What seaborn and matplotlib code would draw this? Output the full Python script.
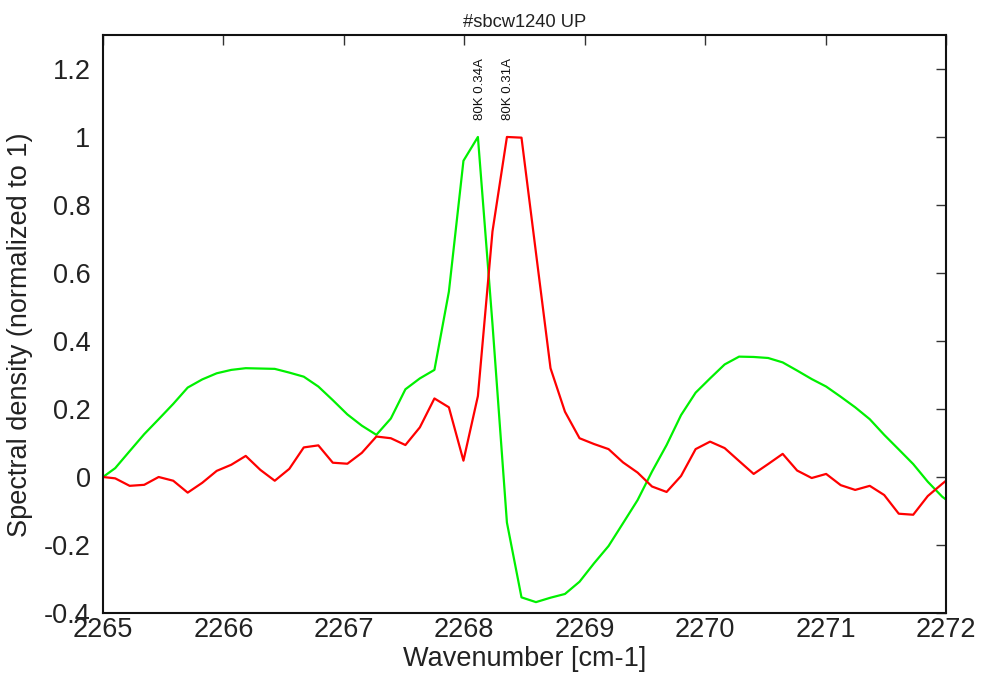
import matplotlib
matplotlib.use("Agg")
import matplotlib.pyplot as plt
import seaborn as sns
import pandas as pd

# ---- data ----
wavenumber = [2265.000, 2265.101, 2265.221, 2265.342, 2265.462, 2265.583, 2265.703, 2265.824,
              2265.944, 2266.065, 2266.185, 2266.306, 2266.426, 2266.547, 2266.667, 2266.788,
              2266.908, 2267.029, 2267.149, 2267.270, 2267.390, 2267.511, 2267.631, 2267.752,
              2267.872, 2267.993, 2268.113, 2268.234, 2268.354, 2268.475, 2268.595, 2268.716,
              2268.836, 2268.957, 2269.077, 2269.198, 2269.318, 2269.439, 2269.559, 2269.680,
              2269.800, 2269.921, 2270.041, 2270.162, 2270.282, 2270.403, 2270.523, 2270.644,
              2270.764, 2270.885, 2271.005, 2271.126, 2271.246, 2271.367, 2271.487, 2271.608,
              2271.728, 2271.849, 2271.969, 2272.090]

green_034A = [0.000, 0.026, 0.076, 0.126, 0.170, 0.215, 0.263, 0.287, 0.305, 0.315,
              0.320, 0.319, 0.318, 0.307, 0.295, 0.266, 0.226, 0.184, 0.151, 0.124,
              0.172, 0.258, 0.290, 0.315, 0.545, 0.930, 1.000, 0.450, -0.134, -0.354,
              -0.368, -0.355, -0.344, -0.308, -0.254, -0.203, -0.136, -0.068, 0.016, 0.094,
              0.182, 0.248, 0.290, 0.331, 0.354, 0.353, 0.350, 0.337, 0.313, 0.288,
              0.266, 0.236, 0.205, 0.170, 0.124, 0.081, 0.038, -0.014, -0.058, -0.090]

red_031A = [0.000, -0.004, -0.026, -0.023, 0.000, -0.011, -0.046, -0.017, 0.018, 0.036,
            0.062, 0.021, -0.011, 0.024, 0.087, 0.093, 0.042, 0.039, 0.071, 0.119,
            0.114, 0.094, 0.146, 0.231, 0.205, 0.048, 0.238, 0.722, 1.000, 0.998,
            0.660, 0.320, 0.192, 0.114, 0.097, 0.082, 0.043, 0.013, -0.028, -0.044,
            0.003, 0.082, 0.104, 0.085, 0.047, 0.009, 0.038, 0.068, 0.019, -0.003,
            0.009, -0.024, -0.038, -0.026, -0.053, -0.108, -0.111, -0.056, -0.020, 0.015]

series_names = ["80K 0.34A", "80K 0.31A"]
series_colors = ["#00f000", "#ff0000"]
peak_positions = [2268.13, 2268.365]
label_y = 1.05

x_ticks = [2265, 2266, 2267, 2268, 2269, 2270, 2271, 2272]
y_ticks = [-0.4, -0.2, 0, 0.2, 0.4, 0.6, 0.8, 1, 1.2]
y_tick_labels = ["-0.4", "-0.2", "0", "0.2", "0.4", "0.6", "0.8", "1", "1.2"]

title = "#sbcw1240 UP"
x_label = "Wavenumber [cm-1]"
y_label = "Spectral density (normalized to 1)"

# ---- build table ----
df = pd.concat([
    pd.DataFrame({"x": wavenumber, "y": green_034A, "s": series_names[0]}),
    pd.DataFrame({"x": wavenumber, "y": red_031A, "s": series_names[1]}),
])

sns.set_theme(style="white")
plt.rcParams["font.family"] = ["Liberation Sans", "DejaVu Sans"]

fig = plt.figure(figsize=(9.86, 6.79), dpi=100)
ax = fig.add_axes([0.1045, 0.0972, 0.9594 - 0.1045, 0.9485 - 0.0972])

sns.lineplot(data=df, x="x", y="y", hue="s", palette=dict(zip(series_names, series_colors)),
             sort=False, estimator=None, linewidth=1.6, legend=False, ax=ax)

ax.set_xlim(2265, 2272)
ax.set_ylim(-0.4, 1.3)
ax.set_xticks(x_ticks)
ax.set_xticklabels([str(t) for t in x_ticks])
ax.set_yticks(y_ticks)
ax.set_yticklabels(y_tick_labels)

ax.tick_params(axis="both", direction="in", length=7, width=1, color="#333333",
               labelsize=19.5, labelcolor="#222222", top=True, right=True)
ax.tick_params(axis="x", pad=3)
ax.tick_params(axis="y", pad=9)
for sp in ax.spines.values():
    sp.set_color("#111111")
    sp.set_linewidth(1.5)

ax.set_xlabel(x_label, fontsize=19.5, color="#222222", labelpad=2)
ax.set_ylabel(y_label, fontsize=19.5, color="#222222")
ax.yaxis.set_label_coords(-0.083, 0.481)
ax.set_title(title, fontsize=13.2, color="#222222", pad=6)

for name, px in zip(series_names, peak_positions):
    ax.text(px, label_y, name, rotation=90, ha="center", va="bottom",
            fontsize=9.5, color="#111111")

fig.savefig("out.png", dpi=100)
